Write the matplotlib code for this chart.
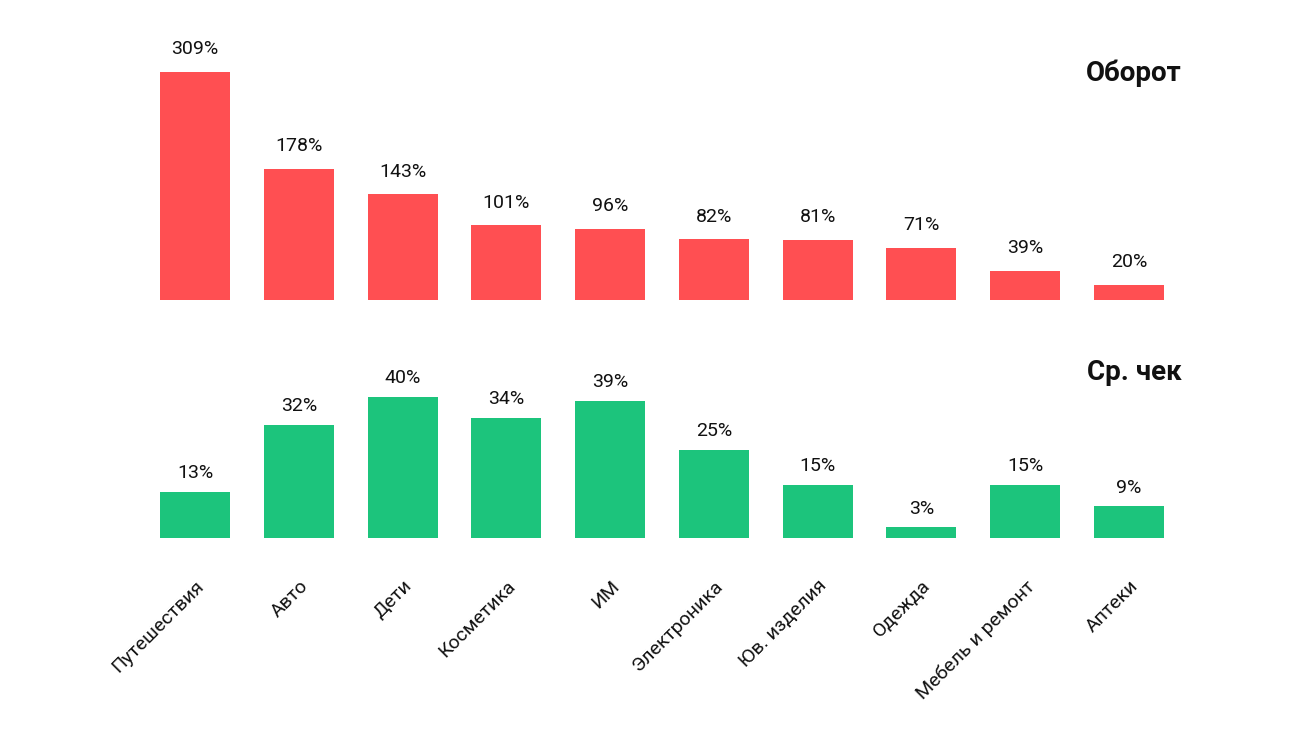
import matplotlib
matplotlib.use("Agg")
import matplotlib.pyplot as plt

categories = ["Путешествия", "Авто", "Дети", "Косметика", "ИМ", "Электроника",
              "Юв. изделия", "Одежда", "Мебель и ремонт", "Аптеки"]
turnover = [309, 178, 143, 101, 96, 82, 81, 71, 39, 20]
avg_check = [13, 32, 40, 34, 39, 25, 15, 3, 15, 9]

plt.rcParams['font.family'] = ['Roboto', 'DejaVu Sans']
W, H = 1300, 731
fig = plt.figure(figsize=(13, 7.31), dpi=100)

def px_axes(left, top, right, bottom):
    return fig.add_axes([left / W, (H - bottom) / H, (right - left) / W, (bottom - top) / H])

x = list(range(len(categories)))
xl, xr = 143.1, 1180.9

ax1 = px_axes(xl, 72, xr, 300)
ax1.bar(x, turnover, width=0.674, color="#FF4F52")
ax1.set_ylim(0, 309)
for i, v in zip(x, turnover):
    ax1.annotate(f"{v}%", (i, v), xytext=(0, 10), textcoords="offset points",
                 ha="center", va="bottom", fontsize=14, color="#111")

ax2 = px_axes(xl, 397, xr, 538)
ax2.bar(x, avg_check, width=0.674, color="#1CC47C")
ax2.set_ylim(0, 40)
for i, v in zip(x, avg_check):
    ax2.annotate(f"{v}%", (i, v), xytext=(0, 7), textcoords="offset points",
                 ha="center", va="bottom", fontsize=14, color="#111")

for ax in (ax1, ax2):
    ax.set_xlim(-0.5, 9.5)
    ax.set_yticks([])
    for s in ax.spines.values():
        s.set_visible(False)
    ax.set_xticks([])

ax2.set_xticks(x)
ax2.set_xticklabels(categories, rotation=45, ha="right", va="top",
                    rotation_mode="anchor", fontsize=14, color="#111")
ax2.tick_params(axis="x", length=0, pad=28)

fig.text(1182 / W, 1 - 73 / H, "Оборот", ha="right", va="center",
         fontsize=20, fontweight="bold", color="#111")
fig.text(1182 / W, 1 - 373 / H, "Ср. чек", ha="right", va="center",
         fontsize=20, fontweight="bold", color="#111")

fig.savefig("out.png", dpi=100, facecolor="white")
